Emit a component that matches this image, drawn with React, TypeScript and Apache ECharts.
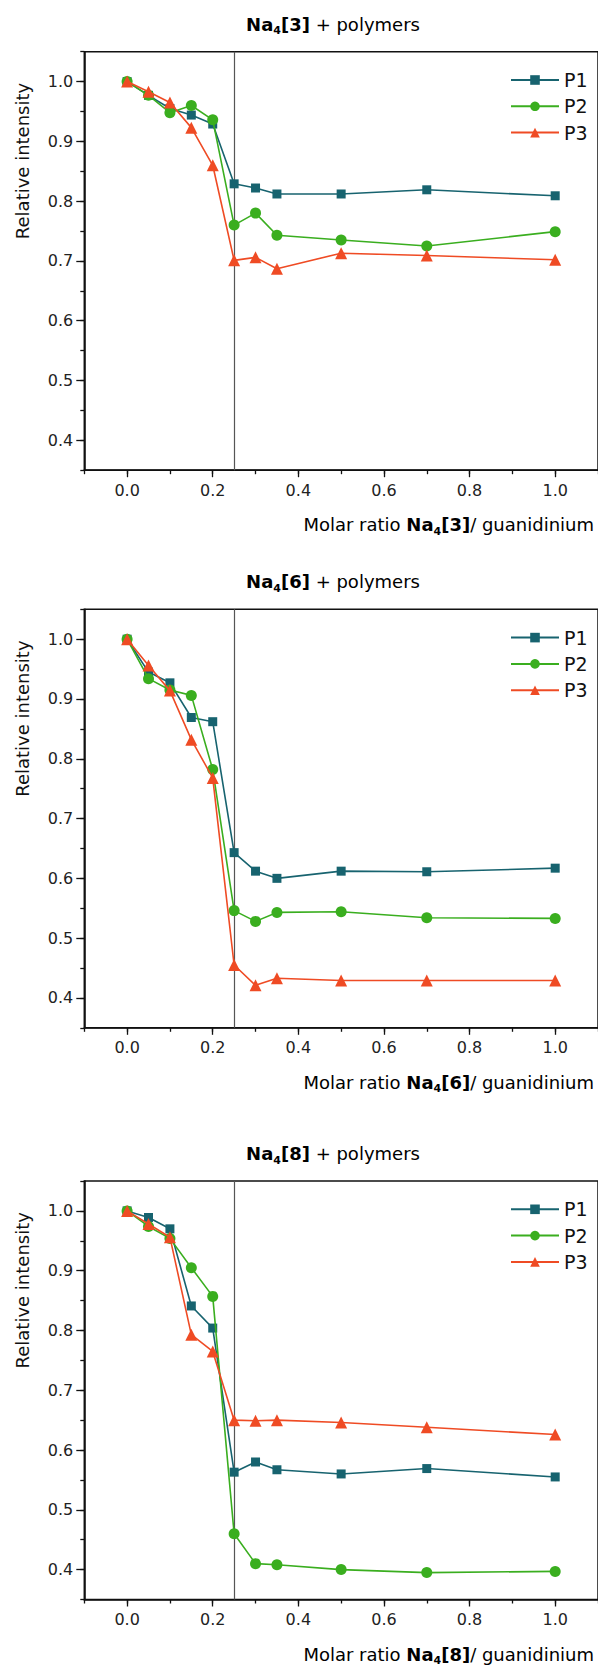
import React, { useEffect, useRef } from "react";
import * as echarts from "echarts";

// ---------- data ----------
const X = [0, 0.05, 0.1, 0.15, 0.2, 0.25, 0.3, 0.35, 0.5, 0.7, 1.0];
const SERIES_NAMES = ["P1", "P2", "P3"];
const COMPOUNDS = ["3", "6", "8"];

// Na4[3]
const P1_3 = [1.0, 0.977, 0.955, 0.944, 0.929, 0.829, 0.822, 0.812, 0.812, 0.819, 0.809];
const P2_3 = [1.0, 0.977, 0.948, 0.96, 0.936, 0.76, 0.78, 0.743, 0.735, 0.725, 0.749];
const P3_3 = [1.0, 0.983, 0.965, 0.923, 0.86, 0.701, 0.706, 0.687, 0.713, 0.709, 0.702];
// Na4[6]
const P1_6 = [1.0, 0.945, 0.927, 0.869, 0.862, 0.643, 0.612, 0.6, 0.612, 0.611, 0.617];
const P2_6 = [1.0, 0.934, 0.915, 0.906, 0.782, 0.546, 0.528, 0.543, 0.544, 0.534, 0.533];
const P3_6 = [1.0, 0.956, 0.914, 0.832, 0.768, 0.455, 0.421, 0.433, 0.429, 0.429, 0.429];
// Na4[8]
const P1_8 = [1.0, 0.989, 0.97, 0.841, 0.804, 0.563, 0.58, 0.567, 0.56, 0.569, 0.555];
const P2_8 = [1.0, 0.974, 0.954, 0.905, 0.857, 0.46, 0.41, 0.408, 0.4, 0.395, 0.397];
const P3_8 = [1.0, 0.978, 0.956, 0.793, 0.765, 0.65, 0.649, 0.65, 0.646, 0.638, 0.626];

const DATA = [
  [P1_3, P2_3, P3_3],
  [P1_6, P2_6, P3_6],
  [P1_8, P2_8, P3_8],
];

const X_LABELS = [0, 0.2, 0.4, 0.6, 0.8, 1.0];
const Y_LABELS = [0.4, 0.5, 0.6, 0.7, 0.8, 0.9, 1.0];
const THRESHOLD = 0.25;

// ---------- styles ----------
const FONT = "DejaVu Sans";
const COLORS = ["#17636f", "#3aae1f", "#ef4b24"];
const SYMBOLS = ["rect", "circle", "triangle"];
const SYMBOL_SIZES = [9, 11, 12];
const GRID_TOPS = [51.7, 609.3, 1181];
const GRID_HEIGHT = 418.5;
const GRID_LEFT = 84.3;
const GRID_WIDTH = 516;

export default function App() {
  const ref = useRef<HTMLDivElement>(null);

  useEffect(() => {
    if (!ref.current) return;
    const chart = echarts.init(ref.current, null, { renderer: "svg" });

    const grids: any[] = [];
    const xAxes: any[] = [];
    const yAxes: any[] = [];
    const series: any[] = [];
    const legends: any[] = [];
    const graphics: any[] = [];

    const rich = {
      b: { fontFamily: FONT, fontSize: 18, fontWeight: "bold", color: "#111" },
      n: { fontFamily: FONT, fontSize: 18, color: "#111" },
      s: { fontFamily: FONT, fontSize: 11, fontWeight: "bold", color: "#111", padding: [13, 0, 0, 0] },
    };

    GRID_TOPS.forEach((top, g) => {
      grids.push({
        left: GRID_LEFT,
        top,
        width: GRID_WIDTH,
        height: GRID_HEIGHT,
        show: true,
        borderColor: "#111",
        borderWidth: 1.5,
      });
      // main x axis
      xAxes.push({
        type: "value",
        gridIndex: g,
        position: "bottom",
        min: -0.1,
        max: 1.1,
        axisLine: { show: true, onZero: false, lineStyle: { color: "#111", width: 1.6 } },
        axisTick: { show: true, inside: false, length: 7, customValues: X_LABELS, lineStyle: { color: "#111", width: 1.3 } },
        axisLabel: {
          show: true,
          customValues: X_LABELS,
          margin: 12,
          fontFamily: FONT,
          fontSize: 16,
          color: "#222",
          formatter: (v: number) => v.toFixed(1),
        },
        splitLine: { show: false },
      });
      // minor x ticks
      xAxes.push({
        type: "value",
        gridIndex: g,
        position: "bottom",
        min: -0.1,
        max: 1.1,
        interval: 0.1,
        axisLine: { show: false, onZero: false },
        axisTick: { show: true, inside: false, length: 4, lineStyle: { color: "#111", width: 1.3 } },
        axisLabel: { show: false },
        splitLine: { show: false },
      });
      // main y axis
      yAxes.push({
        type: "value",
        gridIndex: g,
        position: "left",
        min: 0.35,
        max: 1.05,
        axisLine: { show: true, onZero: false, lineStyle: { color: "#111", width: 1.6 } },
        axisTick: { show: true, inside: false, length: 8, customValues: Y_LABELS, lineStyle: { color: "#111", width: 1.3 } },
        axisLabel: {
          show: true,
          customValues: Y_LABELS,
          margin: 11,
          fontFamily: FONT,
          fontSize: 16,
          color: "#222",
          formatter: (v: number) => v.toFixed(1),
        },
        splitLine: { show: false },
      });
      // minor y ticks
      yAxes.push({
        type: "value",
        gridIndex: g,
        position: "left",
        min: 0.35,
        max: 1.05,
        interval: 0.05,
        axisLine: { show: false, onZero: false },
        axisTick: { show: true, inside: false, length: 4, lineStyle: { color: "#111", width: 1.3 } },
        axisLabel: { show: false },
        splitLine: { show: false },
      });

      DATA[g].forEach((vals, s) => {
        series.push({
          type: "line",
          name: SERIES_NAMES[s],
          xAxisIndex: g * 2,
          yAxisIndex: g * 2,
          data: X.map((x, i) => [x, vals[i]]),
          symbol: SYMBOLS[s],
          symbolSize: SYMBOL_SIZES[s],
          showSymbol: true,
          lineStyle: { color: COLORS[s], width: 1.6 },
          itemStyle: { color: COLORS[s] },
          z: 3 + s,
          markLine:
            s === 0
              ? {
                  silent: true,
                  symbol: "none",
                  label: { show: false },
                  lineStyle: { color: "#555", width: 1.2, type: "solid" },
                  data: [{ xAxis: THRESHOLD }],
                  z: 1,
                }
              : undefined,
        });
      });

      legends.push({
        orient: "vertical",
        left: 505,
        top: top + 13.8,
        itemWidth: 48,
        itemHeight: 12,
        itemGap: 7.3,
        textStyle: { fontFamily: FONT, fontSize: 19, color: "#111", lineHeight: 19 },
        data: SERIES_NAMES,
      });

      const c = COMPOUNDS[g];
      // title
      graphics.push({
        type: "text",
        x: 333,
        y: top - 27.5,
        style: {
          text: `{b|Na}{s|4}{b|[${c}]}{n| + polymers}`,
          rich,
          textAlign: "center",
          textVerticalAlign: "middle",
        },
      });
      // x axis name
      graphics.push({
        type: "text",
        x: 594,
        y: top + GRID_HEIGHT + 54.5,
        style: {
          text: `{n|Molar ratio }{b|Na}{s|4}{b|[${c}]}{n|/ guanidinium}`,
          rich,
          textAlign: "right",
          textVerticalAlign: "middle",
        },
      });
      // y axis name
      graphics.push({
        type: "text",
        x: 22,
        y: top + 109.3,
        rotation: Math.PI / 2,
        style: {
          text: "Relative intensity",
          font: `18px ${FONT}`,
          fill: "#111",
          textAlign: "center",
          textVerticalAlign: "middle",
        },
      });
    });

    chart.setOption({
      animation: false,
      backgroundColor: "#fff",
      grid: grids,
      xAxis: xAxes,
      yAxis: yAxes,
      legend: legends,
      series,
      graphic: graphics,
    });

    return () => chart.dispose();
  }, []);

  return (
    <div
      ref={ref}
      style={{ position: "absolute", left: 0, top: 0, width: 598, height: 1667 }}
    />
  );
}
